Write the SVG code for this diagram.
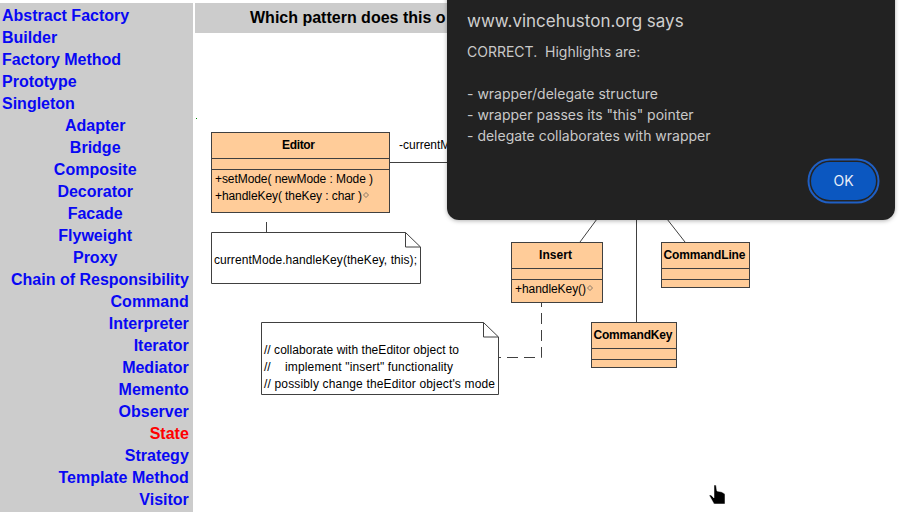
<svg xmlns="http://www.w3.org/2000/svg" width="902" height="512" viewBox="0 0 902 512">
<style>
.nav{font:bold 16px "Liberation Sans",Arial,sans-serif;fill:#0808f4}
.c{text-anchor:middle}.r{text-anchor:end}
.box{fill:#fc9;stroke:#404040;stroke-width:1}
.note{fill:#fff;stroke:#404040;stroke-width:1}
.ln{fill:none;stroke:#404040;stroke-width:1}
.dm{fill:none;stroke:#555;stroke-width:.7}
.cn{font:bold 12px "Liberation Sans",Arial,sans-serif;fill:#000;text-anchor:middle}
.t{font:12px "Liberation Sans",Arial,sans-serif;fill:#000}
.dl{font:14px Inter,Roboto,sans-serif;fill:#c9c9c9}
</style>
<defs><filter id="sh" x="-5%" y="-5%" width="110%" height="112%"><feDropShadow dx="0" dy="1" stdDeviation="2" flood-color="#000" flood-opacity=".3"/></filter></defs>
<rect width="902" height="512" fill="#fff"/>
<g id="sidebar">
<rect x="0" y="3" width="193" height="509" fill="#ccc"/>
<g class="nav">
<text x="2" y="21">Abstract Factory</text>
<text x="2" y="43">Builder</text>
<text x="2" y="65">Factory Method</text>
<text x="2" y="87">Prototype</text>
<text x="2" y="109">Singleton</text>
<text x="95.200" y="131" class="c">Adapter</text>
<text x="95.200" y="153" class="c">Bridge</text>
<text x="95.200" y="175" class="c">Composite</text>
<text x="95.200" y="197" class="c">Decorator</text>
<text x="95.200" y="219" class="c">Facade</text>
<text x="95.200" y="241" class="c">Flyweight</text>
<text x="95.200" y="263" class="c">Proxy</text>
<text x="188.800" y="285" class="r">Chain of Responsibility</text>
<text x="188.800" y="307" class="r">Command</text>
<text x="188.800" y="329" class="r">Interpreter</text>
<text x="188.800" y="351" class="r">Iterator</text>
<text x="188.800" y="373" class="r">Mediator</text>
<text x="188.800" y="395" class="r">Memento</text>
<text x="188.800" y="417" class="r">Observer</text>
<text x="188.800" y="439" class="r" style="fill:#f00">State</text>
<text x="188.800" y="461" class="r">Strategy</text>
<text x="188.800" y="483" class="r">Template Method</text>
<text x="188.800" y="505" class="r">Visitor</text>
</g>
</g>
<g id="header">
<rect x="195" y="3" width="260" height="30" fill="#ccc"/>
<text x="250" y="23" style="font:bold 16px 'Liberation Sans',Arial,sans-serif;fill:#000">Which pattern does this o</text>
</g>
<rect x="196" y="118" width="1" height="1" fill="#080"/>
<g id="connectors">
<path class="ln" d="M389.500 162.500H450"/>
<path class="ln" d="M266.500 203V212M266.500 222V232"/>
<path class="ln" d="M597 219L580 242"/>
<path class="ln" d="M636.500 219V322"/>
<path class="ln" d="M667 219L685 242"/>
<path class="ln" d="M541.500 296V357.500H499" stroke-dasharray="11 6"/>
</g>
<g id="editor">
<rect class="box" x="211.500" y="132.500" width="178" height="80"/>
<path class="ln" d="M211.500 158.500H389.500M211.500 169.500H389.500"/>
<text class="cn" x="298.500" y="149" textLength="33">Editor</text>
<text class="t" x="215" y="183" textLength="158">+setMode( newMode : Mode )</text>
<text class="t" x="215" y="200" textLength="147">+handleKey( theKey : char )</text>
<path class="dm" d="M366 192.500L368.500 195L366 197.500L363.500 195Z"/>
</g>
<text id="role-label" class="t" x="399" y="149">-currentMode</text>
<g id="note-editor">
<path class="note" d="M211.500 232.500H405.500L420.500 247V283.500H211.500Z"/>
<path class="ln" d="M405.500 232.500V247H420.500"/>
<text class="t" x="214" y="264" textLength="203">currentMode.handleKey(theKey, this);</text>
</g>
<g id="insert">
<rect class="box" x="511.500" y="242.500" width="91" height="60"/>
<path class="ln" d="M511.500 268.500H602.500M511.500 279.500H602.500"/>
<text class="cn" x="555.500" y="259" textLength="33">Insert</text>
<text class="t" x="515" y="293" textLength="71">+handleKey()</text>
<path class="dm" d="M590 285.500L592.500 288L590 290.500L587.500 288Z"/>
</g>
<g id="commandline">
<rect class="box" x="661.500" y="242.500" width="88" height="45"/>
<path class="ln" d="M661.500 268.500H749.500M661.500 279.500H749.500"/>
<text class="cn" x="704.500" y="259" textLength="82">CommandLine</text>
</g>
<g id="commandkey">
<rect class="box" x="591.500" y="322.500" width="85" height="45"/>
<path class="ln" d="M591.500 348.500H676.500M591.500 359.500H676.500"/>
<text class="cn" x="633" y="339" textLength="79">CommandKey</text>
</g>
<g id="note-insert">
<path class="note" d="M261.500 322.500H483.500L498.500 337V394.500H261.500Z"/>
<path class="ln" d="M483.500 322.500V337H498.500"/>
<text class="t" x="264" y="354" textLength="195">// collaborate with theEditor object to</text>
<text class="t" x="264" y="371">//</text>
<text class="t" x="285" y="371" textLength="168">implement "insert" functionality</text>
<text class="t" x="264" y="388" textLength="231">// possibly change theEditor object's mode</text>
</g>
<g id="dialog">
<path d="M447 -10H895V208a12 12 0 0 1-12 12H459a12 12 0 0 1-12-12Z" fill="#242424" filter="url(#sh)"/>
<text x="467" y="27" style="font:17px Inter,Roboto,sans-serif;fill:#cfcfcf">www.vincehuston.org says</text>
<text class="dl" x="467" y="57" xml:space="preserve">CORRECT.  Highlights are:</text>
<text class="dl" x="467" y="99">- wrapper/delegate structure</text>
<text class="dl" x="467" y="120">- wrapper passes its "this" pointer</text>
<text class="dl" x="467" y="141">- delegate collaborates with wrapper</text>
</g>
<g id="ok">
<rect x="808.500" y="159.500" width="70" height="43" rx="21.500" fill="#242424" stroke="#1f5fc4" stroke-width="2"/>
<rect x="811" y="162" width="65" height="38" rx="19" fill="#0b57c0"/>
<text x="843.500" y="186" text-anchor="middle" style="font:14px Inter,Roboto,sans-serif;fill:#e8eef8">OK</text>
</g>
<path id="cursor" d="M714 485H716L717 491L722 492L725 494V504H714L709 495H711L714 498Z" fill="#000" stroke="#fff" stroke-width=".5"/>
</svg>
